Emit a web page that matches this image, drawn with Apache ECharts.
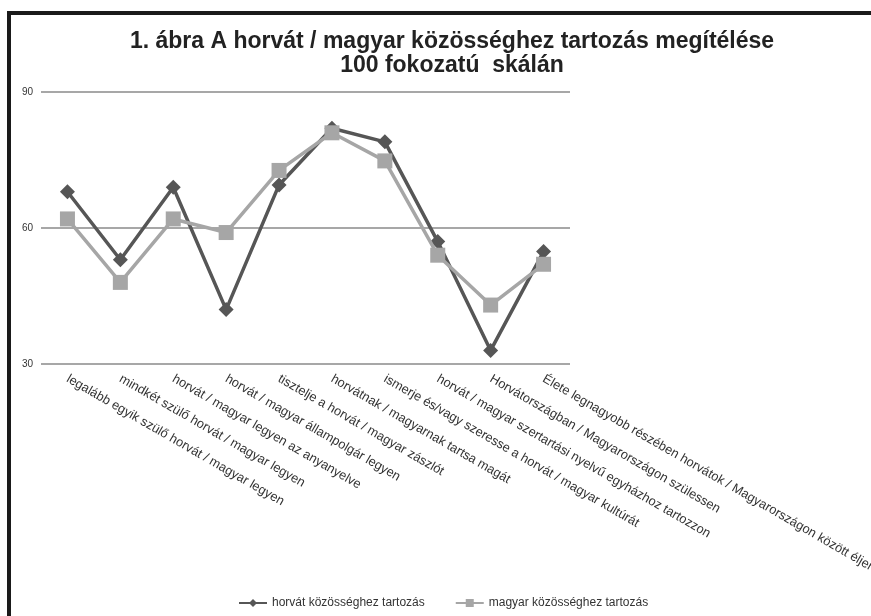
<!DOCTYPE html>
<html>
<head>
<meta charset="utf-8">
<script src="https://cdn.jsdelivr.net/npm/echarts@6/dist/echarts.min.js"></script>
<style>
  html, body { margin: 0; padding: 0; background: #fff; }
  #frame {
    position: absolute; left: 7px; top: 11px; width: 880px; height: 620px;
    border-left: 4px solid #1a1a1a; border-top: 4px solid #1a1a1a;
  }
  #chart { position: absolute; left: 0; top: 0; width: 871px; height: 616px; }
</style>
</head>
<body>
<div id="frame"></div>
<div id="chart"></div>
<script>
// kategóriák (x tengely)
const categories = [
  'legalább egyik szülő horvát / magyar legyen',
  'mindkét szülő horvát / magyar legyen',
  'horvát / magyar legyen az anyanyelve',
  'horvát / magyar állampolgár legyen',
  'tisztelje a horvát / magyar zászlót',
  'horvátnak / magyarnak tartsa magát',
  'ismerje és/vagy szeresse a horvát / magyar kultúrát',
  'horvát / magyar szertartási nyelvű egyházhoz tartozzon',
  'Horvátországban / Magyarországon szülessen',
  'Élete legnagyobb részében horvátok / Magyarországon között éljen'
];
const horvatValues = [68, 53, 69, 42, 69.5, 82, 79, 57, 33, 54.8];
const magyarValues = [62, 48, 62, 59, 72.7, 81, 74.8, 54, 43, 52];
const yTicks = [30, 60, 90];

const font = '"Liberation Sans", Arial, sans-serif';

let chart = echarts.init(document.getElementById('chart'), null, {renderer: 'canvas'});
let option = {
  animation: false,
  title: {
    text: '1. ábra A horvát / magyar közösséghez tartozás megítélése\n100 fokozatú  skálán',
    left: 447,
    top: 25,
    textAlign: 'center',
    textStyle: {
      fontFamily: font,
      fontSize: 23,
      fontWeight: 'bold',
      color: '#222',
      lineHeight: 24
    }
  },
  legend: {
    left: 233,
    top: 592,
    itemGap: 30,
    itemWidth: 28,
    itemHeight: 10,
    textStyle: { fontFamily: font, fontSize: 12, color: '#333' },
    data: ['horvát közösséghez tartozás', 'magyar közösséghez tartozás']
  },
  grid: {
    left: 41, right: 301, top: 92, bottom: 252,
    containLabel: false,
    outerBoundsMode: 'none'
  },
  xAxis: {
    type: 'category',
    data: categories,
    boundaryGap: true,
    axisLine: { show: false },
    axisTick: { show: false },
    axisLabel: {
      interval: 0,
      rotate: -30,
      margin: 14,
      fontFamily: font,
      fontSize: 12.8,
      color: '#333'
    }
  },
  yAxis: {
    type: 'value',
    min: yTicks[0],
    max: yTicks[yTicks.length - 1],
    interval: 30,
    axisLine: { show: false },
    axisTick: { show: false },
    axisLabel: { fontFamily: font, fontSize: 10, color: '#333', margin: 8 },
    splitLine: { lineStyle: { color: '#8a8a8a', width: 1.5 } }
  },
  series: [
    {
      name: 'horvát közösséghez tartozás',
      type: 'line',
      data: horvatValues,
      symbol: 'diamond',
      symbolSize: 15,
      z: 2,
      lineStyle: { color: '#565656', width: 3.5 },
      itemStyle: { color: '#565656' }
    },
    {
      name: 'magyar közösséghez tartozás',
      type: 'line',
      data: magyarValues,
      symbol: 'rect',
      symbolSize: 15,
      z: 3,
      lineStyle: { color: '#a6a6a6', width: 3.5 },
      itemStyle: { color: '#a6a6a6' }
    }
  ]
};
option && chart.setOption(option);
</script>
</body>
</html>
